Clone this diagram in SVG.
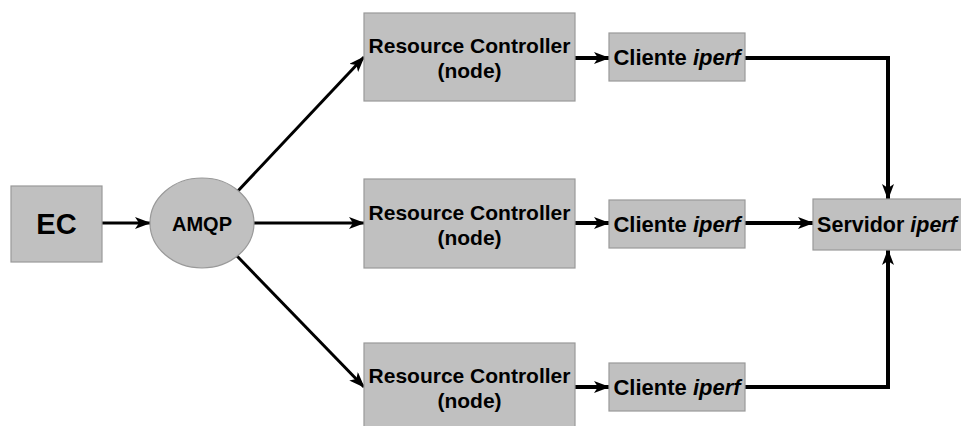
<svg xmlns="http://www.w3.org/2000/svg" width="961" height="426" viewBox="0 0 961 426">
  <style>
    .box { fill: #c0c0c0; stroke: #999999; stroke-width: 1.2; }
    .lbl { font-family: "Liberation Sans", Arial, sans-serif; font-weight: bold; fill: #000; text-anchor: middle; }
    .rc { font-size: 21px; }
    .cl { font-size: 22px; }
    .it { font-style: italic; }
    .edge { fill: none; stroke: #000; stroke-width: 3; }
    .thick { stroke-width: 4; }
  </style>
  <defs>
    <marker id="arrow" markerUnits="userSpaceOnUse" markerWidth="16" markerHeight="12" viewBox="0 0 16 12" refX="15" refY="6" orient="auto">
      <path d="M0,0 L16,6 L0,12 L4,6 z" fill="#000"/>
    </marker>
  </defs>

  <rect width="961" height="426" fill="#ffffff"/>

  <!-- connectors -->
  <g id="connectors">
    <line class="edge" x1="102" y1="223" x2="150" y2="223" marker-end="url(#arrow)"/>
    <line class="edge" x1="237" y1="192" x2="364" y2="57" marker-end="url(#arrow)"/>
    <line class="edge" x1="254" y1="223" x2="364" y2="223" marker-end="url(#arrow)"/>
    <line class="edge" x1="237" y1="256" x2="364" y2="387" marker-end="url(#arrow)"/>
    <line class="edge thick" x1="575" y1="58" x2="609" y2="58" marker-end="url(#arrow)"/>
    <line class="edge thick" x1="575" y1="223" x2="609" y2="223" marker-end="url(#arrow)"/>
    <line class="edge thick" x1="575" y1="387" x2="609" y2="387" marker-end="url(#arrow)"/>
    <polyline class="edge thick" points="745,58 888,58 888,199" marker-end="url(#arrow)"/>
    <line class="edge thick" x1="745" y1="223" x2="813" y2="223" marker-end="url(#arrow)"/>
    <polyline class="edge thick" points="745,387 888,387 888,250" marker-end="url(#arrow)"/>
  </g>

  <g id="ec">
    <rect class="box" x="11" y="186" width="91" height="76"/>
    <text class="lbl" x="56.5" y="234" font-size="29">EC</text>
  </g>

  <g id="amqp">
    <ellipse class="box" cx="202" cy="223" rx="52" ry="45"/>
    <text class="lbl" x="202" y="231" font-size="20">AMQP</text>
  </g>

  <g id="rc1">
    <rect class="box" x="364" y="13" width="211" height="88"/>
    <text class="lbl rc" x="469.5" y="53">Resource Controller</text>
    <text class="lbl rc" x="469.5" y="78">(node)</text>
  </g>

  <g id="rc2">
    <rect class="box" x="364" y="179" width="211" height="89"/>
    <text class="lbl rc" x="469.5" y="220">Resource Controller</text>
    <text class="lbl rc" x="469.5" y="245">(node)</text>
  </g>

  <g id="rc3">
    <rect class="box" x="364" y="343" width="211" height="89"/>
    <text class="lbl rc" x="469.5" y="383">Resource Controller</text>
    <text class="lbl rc" x="469.5" y="408">(node)</text>
  </g>

  <g id="cliente1">
    <rect class="box" x="609" y="33" width="136" height="48"/>
    <text class="lbl cl" x="677" y="65">Cliente <tspan class="it">iperf</tspan></text>
  </g>

  <g id="cliente2">
    <rect class="box" x="609" y="200" width="136" height="48"/>
    <text class="lbl cl" x="677" y="232">Cliente <tspan class="it">iperf</tspan></text>
  </g>

  <g id="cliente3">
    <rect class="box" x="609" y="363" width="136" height="48"/>
    <text class="lbl cl" x="677" y="395">Cliente <tspan class="it">iperf</tspan></text>
  </g>

  <g id="servidor">
    <rect class="box" x="813" y="199" width="150" height="51"/>
    <text class="lbl" x="887" y="232" font-size="21.5">Servidor <tspan class="it">iperf</tspan></text>
  </g>
</svg>
